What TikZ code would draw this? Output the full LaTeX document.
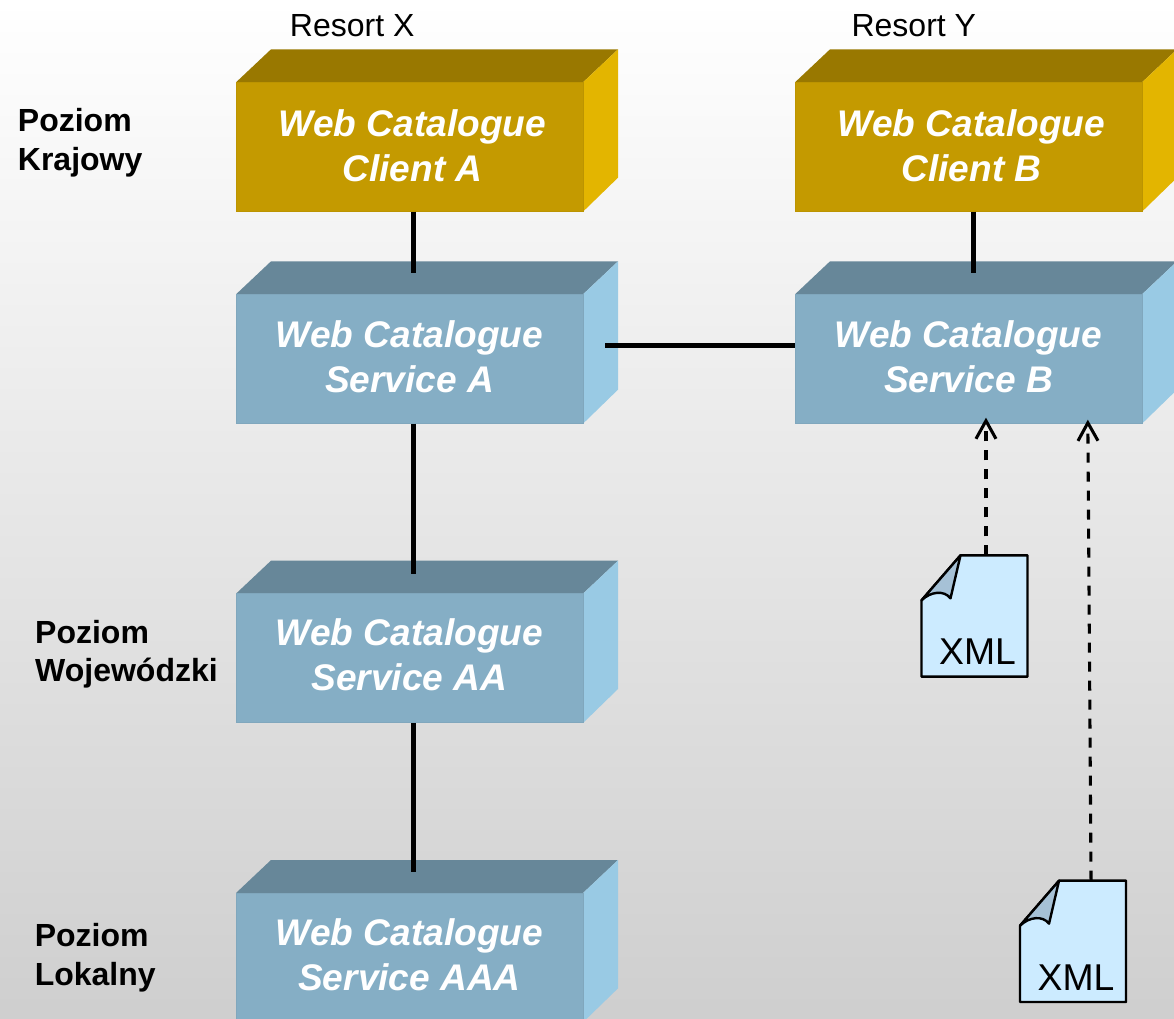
\documentclass[tikz,border=0pt]{standalone}
\usepackage{fontspec}
\setmainfont{Liberation Sans}
\usepackage{xcolor}
\definecolor{goldFront}{HTML}{C49A00}
\definecolor{goldTop}{HTML}{997800}
\definecolor{goldSide}{HTML}{E3B500}
\definecolor{blueFront}{HTML}{85AEC5}
\definecolor{blueTop}{HTML}{678799}
\definecolor{blueSide}{HTML}{99CAE4}
\definecolor{docFill}{HTML}{CCEBFF}
\definecolor{docFold}{HTML}{A6C1D6}
\usepackage{tikz}
\usetikzlibrary{arrows.meta, positioning}

\begin{document}
\begin{tikzpicture}[
    block3d/.style n args={3}{
        draw=#1!96!black,
        line width=0.75pt,
        fill=#1,
        rectangle,
        outer sep=0pt,
        minimum width=260.25pt,
        minimum height=97pt,
        align=center,
        text=white,
        font=\fontsize{27.8}{33.75}\selectfont\bfseries\itshape,
        append after command={\pgfextra{
            \fill[#2] (\tikzlastnode.north west) -- ++(26.25pt,24.75pt)
                -- ([shift={(26.25pt,24.75pt)}]\tikzlastnode.north east)
                -- (\tikzlastnode.north east) -- cycle;
            \fill[#3] (\tikzlastnode.north east) -- ++(26.25pt,24.75pt)
                -- ([shift={(26.25pt,25.5pt)}]\tikzlastnode.south east)
                -- (\tikzlastnode.south east) -- cycle;
        }}
    },
    client/.style={block3d={goldFront}{goldTop}{goldSide}, text depth=1.5pt},
    service/.style={block3d={blueFront}{blueTop}{blueSide}, text depth=3pt},
    xmldoc/.style={
        rectangle,
        outer sep=0pt,
        minimum width=79.5pt,
        minimum height=91pt,
        append after command={\pgfextra{
            \draw[line width=1.8pt, line join=round, fill=docFill]
                ([xshift=29.25pt]\tikzlastnode.north west) -- (\tikzlastnode.north east)
                -- (\tikzlastnode.south east) -- (\tikzlastnode.south west)
                -- ([yshift=-33.75pt]\tikzlastnode.north west) -- cycle;
            \draw[line width=1.8pt, line join=round, fill=docFold]
                ([xshift=29.25pt]\tikzlastnode.north west)
                -- ([shift={(21.75pt,-32.25pt)}]\tikzlastnode.north west)
                .. controls ([shift={(17pt,-26pt)}]\tikzlastnode.north west)
                and ([shift={(7pt,-27pt)}]\tikzlastnode.north west)
                .. ([yshift=-33.75pt]\tikzlastnode.north west) -- cycle;
        }},
        label={[anchor=base, inner sep=0pt, xshift=2.25pt, yshift=9pt,
            font=\fontsize{28}{33}\selectfont]south:XML}
    },
    resort/.style={font=\fontsize{24}{29}\selectfont, inner sep=0pt},
    level/.style={font=\fontsize{24}{29}\selectfont\bfseries, align=left, inner sep=0pt},
    link/.style={line width=3.75pt},
    feed/.style={line width=2.3pt, dash pattern=on 7.5pt off 6.75pt,
        -{Straight Barb[length=13.5pt, width=15pt, line width=2.3pt]}}
]

% Background
\useasboundingbox (0,0) rectangle (880.5pt,763.5pt);
\shade[top color=white, bottom color=black!19] (0,0) rectangle (880.5pt,763.5pt);

% Blocks
\node[client] (clienta) at (307.125pt,653.25pt) {\hspace*{4.5pt}Web Catalogue\\\hspace*{4.5pt}Client A};
\node[client, right=159pt of clienta] (clientb) {\hspace*{4.5pt}Web Catalogue\\\hspace*{4.5pt}Client B};
\node[service, below=62pt of clienta] (servicea) {Web Catalogue\\Service A};
\node[service, below=62pt of clientb] (serviceb) {Web Catalogue\\Service B};
\node[service, text depth=6pt, below=127.5pt of servicea] (serviceaa) {Web Catalogue\\Service AA};
\node[service, text depth=4.5pt, below=127.5pt of serviceaa] (serviceaaa) {Web Catalogue\\Service AAA};

% Documents
\node[xmldoc, below=98.75pt of serviceb, xshift=4.5pt] (doca) {};
\node[xmldoc, below=153pt of doca, xshift=73.9pt] (docb) {};

% Labels
\node[resort, above=34.25pt of clienta.north, xshift=-43pt] (resortx) {Resort X};
\node[resort, above=34.25pt of clientb.north, xshift=-41pt] (resorty) {Resort Y};
\node[level, left=70pt of clienta, yshift=3pt] (krajowy) {Poziom\\Krajowy};
\node[level, left=13.5pt of serviceaa, yshift=3pt] (wojewodzki) {Poziom\\Wojewódzki};
\node[level, left=60pt of serviceaaa, yshift=-0.25pt] (lokalny) {Poziom\\Lokalny};

% Connections
\draw[link] ([xshift=2.9pt]clienta.south) -- ([xshift=2.9pt,yshift=15.75pt]servicea.north);
\draw[link] ([xshift=4.1pt]clientb.south) -- ([xshift=4.1pt,yshift=15.75pt]serviceb.north);
\draw[link] ([shift={(16.5pt,10.1pt)}]servicea.east) -- ([yshift=10.1pt]serviceb.west);
\draw[link] ([xshift=2.9pt]servicea.south) -- ([xshift=2.9pt,yshift=15pt]serviceaa.north);
\draw[link] ([xshift=2.9pt]serviceaa.south) -- ([xshift=2.9pt,yshift=15.75pt]serviceaaa.north);

% XML feeds
\draw[feed] ([xshift=8.6pt]doca.north) -- ([shift={(13.1pt,4.5pt)}]serviceb.south);
\draw[feed] ([xshift=13.5pt]docb.north) -- ([shift={(89.5pt,3pt)}]serviceb.south);

\end{tikzpicture}
\end{document}
